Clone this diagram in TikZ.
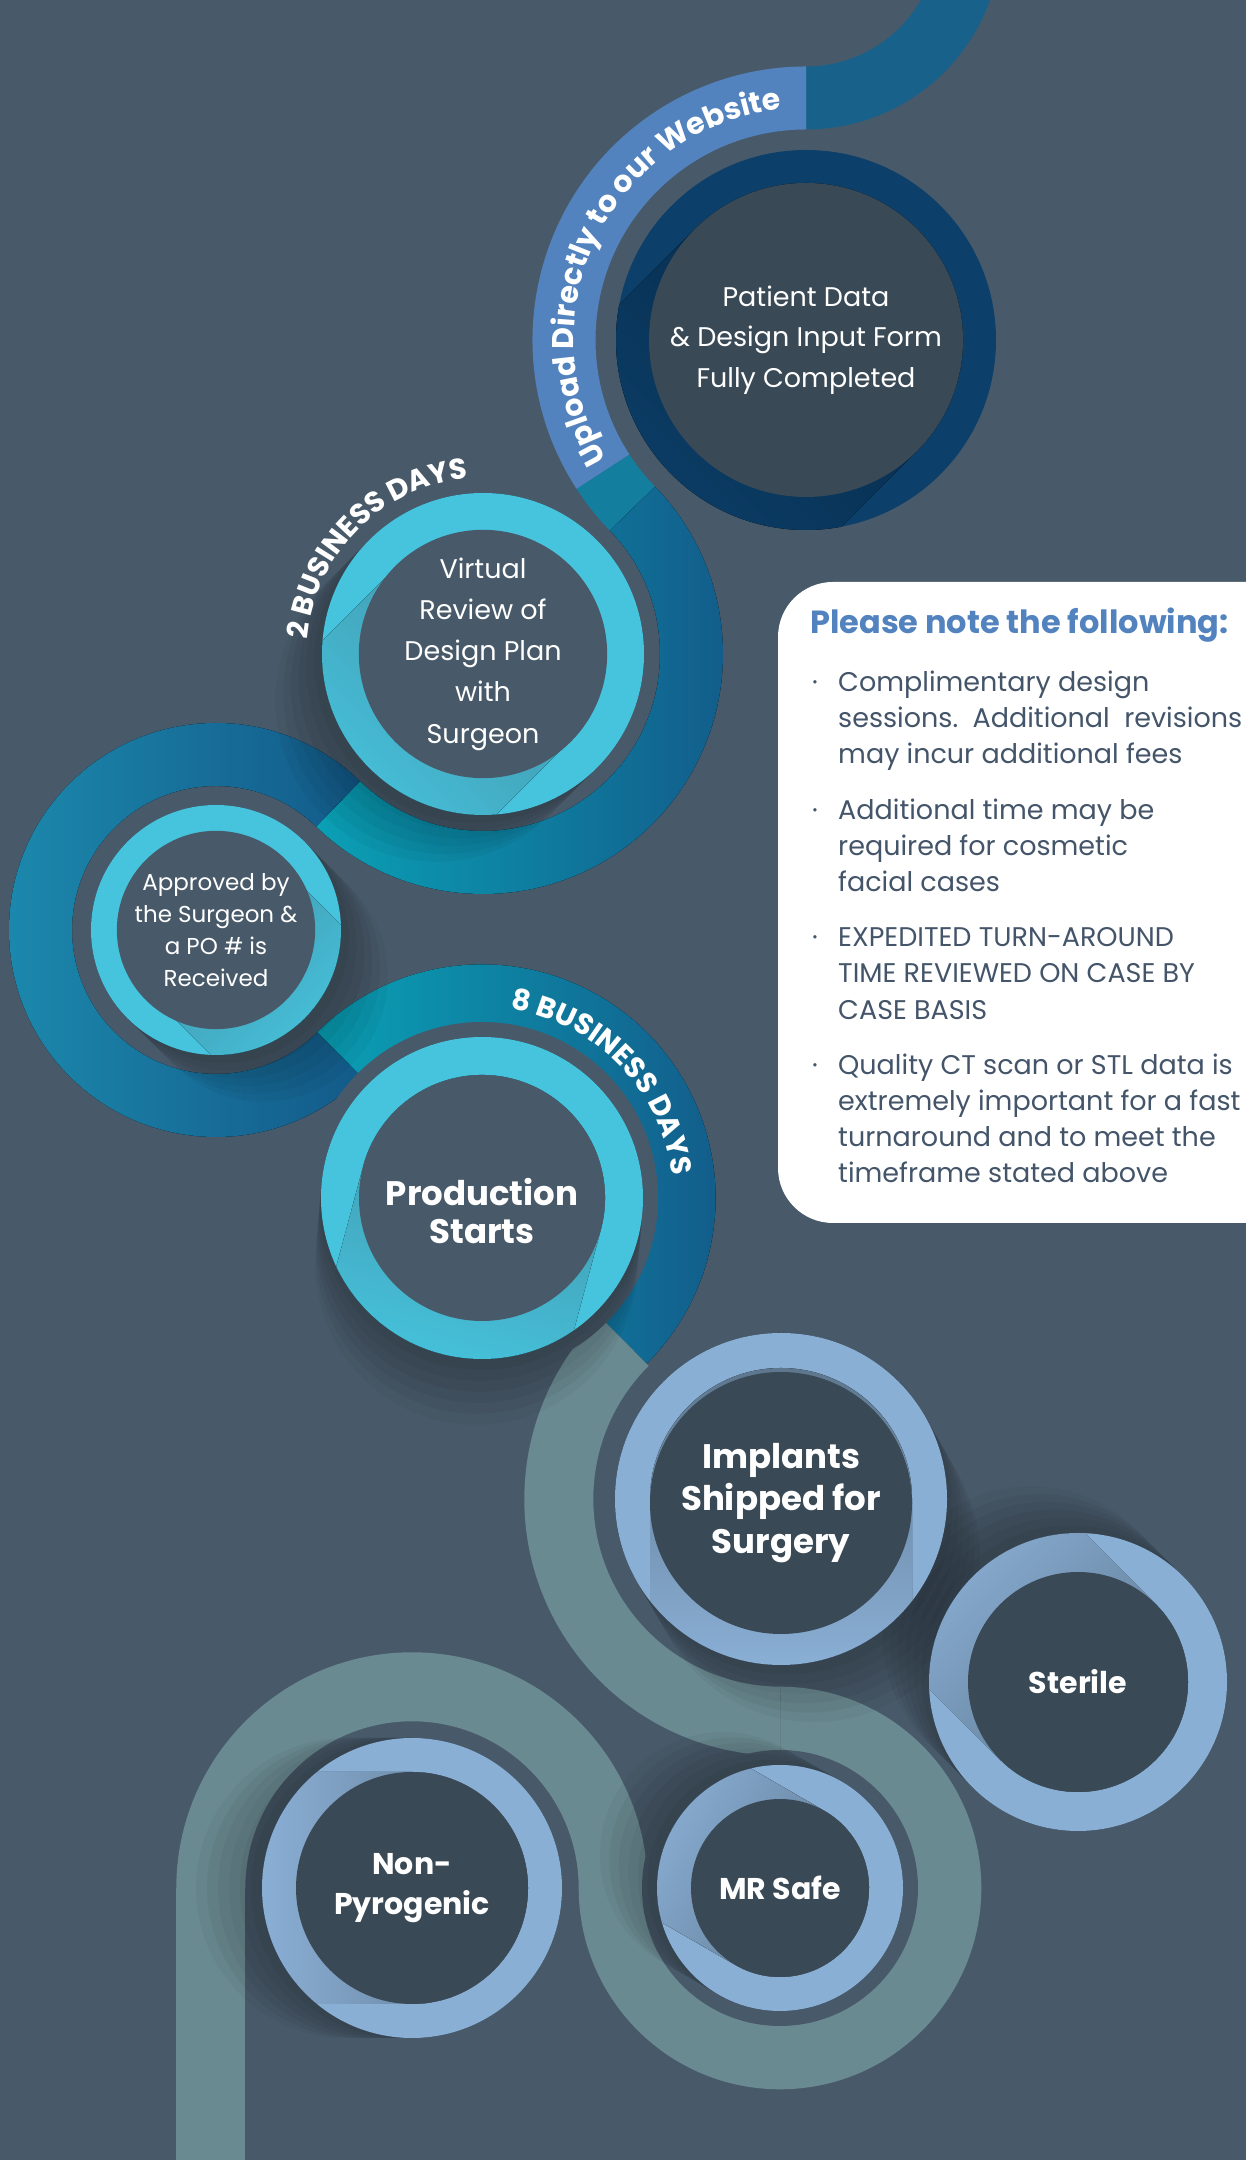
\documentclass[tikz,border=0pt]{standalone}
\usepackage{fontspec}
\setmainfont{Poppins}
\usetikzlibrary{decorations.text}

\definecolor{bgslate}{HTML}{485A69}
\definecolor{discdark}{HTML}{394955}
\definecolor{navyring}{HTML}{0C3F69}
\definecolor{navyshade}{HTML}{062847}
\definecolor{cyanring}{HTML}{46C4DE}
\definecolor{paleblue}{HTML}{8AAFD5}
\definecolor{uploadblue}{HTML}{5283BF}
\definecolor{topband}{HTML}{18618B}
\definecolor{junctionteal}{HTML}{137E9D}
\definecolor{tealband}{HTML}{0AA0B5}
\definecolor{aleft}{HTML}{1C8AAE}
\definecolor{deepband}{HTML}{135A89}
\definecolor{grayband}{HTML}{6A8A91}
\definecolor{notegray}{HTML}{44556A}

\newcommand\fsz[2]{\fontsize{#1}{#2}\selectfont}
% ribbon piece: centre, mid radius, width, start angle, end angle
\newcommand\bandpath[5]{(#1) ++(#4:{#2-#3/2}) arc[start angle=#4, end angle=#5, radius={#2-#3/2}] -- ++(#5:#3) arc[start angle=#5, end angle=#4, radius={#2+#3/2}] -- cycle}
% disc dragged along a direction: centre, radius, angle, length
\newcommand\stadiumpath[4]{(#1) ++({#3+90}:#2) arc[start angle={#3+90}, end angle={#3+270}, radius=#2] -- ++(#3:#4) -- ++({#3+90}:{2*#2}) -- cycle}
% same, with a round front end
\newcommand\sweptpath[4]{(#1) ++({#3+90}:#2) arc[start angle={#3+90}, end angle={#3+270}, radius=#2] -- ++(#3:#4) arc[start angle={#3-90}, end angle={#3+90}, radius=#2] -- cycle}
% long shadow inside a ring: centre, ring radius, disc radius, angle, ring colour, shadow colour
\newcommand\innershade[6]{%
  \begin{scope}
    \clip (#1) circle[radius=#2];
    \fill[shading=axis, top color=#5, bottom color=#6, shading angle={#4-90}] \stadiumpath{#1}{#3}{#4}{#2};
  \end{scope}}

\begin{document}
\begin{tikzpicture}[x=1pt, y=1pt,
    disc/.style={circle, inner sep=0pt, fill=#1, text=white, align=center},
    steplabel/.style={inner sep=0pt, text=white, align=center},
    curvedlabel/.style={decorate, decoration={text along path, text align=center, text color=white, text={#1}}},
    softshadow/.style={black, opacity=0.04},
    notehead/.style={anchor=west, inner sep=0pt, text=uploadblue, font=\fsz{32}{36}\bfseries},
    notebody/.style={anchor=north west, inner sep=0pt, text=notegray, font=\fsz{27}{36.2}}
  ]
  \useasboundingbox (0,0) rectangle (1246,2160);
  \clip (0,0) rectangle (1246,2160);
  \fill[bgslate] (0,0) rectangle (1246,2160);

  % Centres
  \coordinate (pc) at (806,1820);   % patient data
  \coordinate (vc) at (483,1506);   % virtual review
  \coordinate (ac) at (216,1230);   % approved
  \coordinate (sc) at (482,962);    % production
  \coordinate (ic) at (781,661);    % implants
  \coordinate (mc) at (780,272);    % mr safe
  \coordinate (nc) at (412,272);    % non-pyrogenic
  \coordinate (stc) at (1078,478);  % sterile
  \coordinate (tc) at (806,2226);

  % Ribbon
  \fill[topband] \bandpath{tc}{164}{63}{-90}{5};
  \fill[uploadblue] \bandpath{pc}{242}{63}{90}{213};
  \fill[junctionteal] \bandpath{pc}{242}{63}{213}{224.19};
  \fill[left color=tealband, right color=deepband] \bandpath{vc}{208.5}{63}{44.19}{-134.06};
  \fill[left color=aleft, middle color=tealband, right color=deepband] \bandpath{ac}{175.5}{63}{45.94}{314.79};
  \fill[left color=tealband, right color=deepband] \bandpath{sc}{202.1}{63}{134.79}{-45.19};
  \fill[grayband] \bandpath{ic}{222.2}{69}{134.81}{269.85};
  \fill[grayband] \bandpath{mc}{166.8}{69}{89.85}{-180};
  \fill[grayband] \bandpath{nc}{201.2}{69}{0}{180};
  \fill[grayband] (176.3,272) rectangle (245.3,-10);

  % Gaps round the rings
  \foreach \c/\r in {pc/205, vc/176, ac/140, sc/176, ic/181, mc/138, nc/165}
    \fill[bgslate] (\c) circle[radius=\r];

  % Soft shadows outside the rings
  \foreach \c/\R/\a in {vc/161/225, ac/125/315, sc/161/265, ic/166/300, stc/149/135, mc/123/150, nc/150/180}
    \foreach \k in {1,...,6}
      \fill[softshadow] \sweptpath{\c}{\R}{\a}{\k*11};

  % Rings
  \foreach \c/\R/\col in {pc/190/navyring, vc/161/cyanring, ac/125/cyanring, sc/161/cyanring,
      ic/166/paleblue, stc/149/paleblue, mc/123/paleblue, nc/150/paleblue}
    \fill[\col] (\c) circle[radius=\R];

  \innershade{pc}{190}{157}{225}{navyring}{navyshade}
  \innershade{vc}{161}{123}{225}{cyanring}{cyanring!55!discdark}
  \innershade{ac}{125}{92}{315}{cyanring}{cyanring!55!discdark}
  \innershade{sc}{161}{123}{255}{cyanring}{cyanring!55!discdark}
  \innershade{ic}{166}{131}{270}{paleblue}{paleblue!45!discdark}
  \innershade{stc}{149}{110}{135}{paleblue}{paleblue!45!discdark}
  \innershade{mc}{123}{89}{150}{paleblue}{paleblue!45!discdark}
  \innershade{nc}{150}{116}{180}{paleblue}{paleblue!45!discdark}

  % Steps
  \node[disc=discdark, minimum size=314, font=\fsz{27}{40.6}] (patient) at (pc)
    {Patient Data\\\& Design Input Form\\Fully Completed};
  \node[disc=bgslate, minimum size=246, font=\fsz{27}{41.3}] (review) at (vc)
    {Virtual\\Review of\\Design Plan\\with\\Surgeon};
  \node[disc=bgslate, minimum size=184, font=\fsz{23}{32}] (approved) at (ac)
    {Approved by\\the Surgeon \&\\a PO \# is\\Received};
  \node[disc=bgslate, minimum size=246] (production) at (sc) {};
  \node[steplabel, font=\fsz{34}{38.5}\bfseries] (productionlabel) at ([yshift=-13]production.center)
    {Production\\Starts};
  \node[disc=discdark, minimum size=262, font=\fsz{34}{42.7}\bfseries] (implants) at ([yshift=-4]ic)
    {Implants\\Shipped for\\Surgery};
  \node[disc=discdark, minimum size=220, font=\fsz{30}{36}\bfseries] (sterile) at (stc) {Sterile};
  \node[disc=discdark, minimum size=178, font=\fsz{30}{36}\bfseries] (mrsafe) at (mc) {MR Safe};
  \node[disc=discdark, minimum size=232, font=\fsz{30}{40}\bfseries] (nonpyro) at (nc)
    {Non-\\Pyrogenic};

  % Curved labels
  \path[curvedlabel={|\fsz{30}{30}\bfseries|Upload Directly to our Website}]
    (pc) ++(225:232) arc[start angle=225, end angle=82, radius=232];
  \path[curvedlabel={|\fsz{29}{29}\bfseries|2 BUSINESS DAYS}]
    (vc) ++(200:176) arc[start angle=200, end angle=70, radius=176];
  \path[curvedlabel={|\fsz{29}{29}\bfseries|8 BUSINESS DAYS}]
    (sc) ++(104:191) arc[start angle=104, end angle=-16, radius=191];

  % Note box
  \fill[white, rounded corners=55] (778,937) rectangle (1330,1578);
  \node[notehead] (notetitle) at (810,1535) {Please note the following:};
  \node[notebody] (notelist) at (812,1494) {%
    \begin{tabular}{@{}p{26pt}@{}l@{}}
      ·&Complimentary design\\
       &sessions.\ \ Additional\ \ revisions\\
       &may incur additional fees\\[19pt]
      ·&Additional time may be\\
       &required for cosmetic\\
       &facial cases\\[19pt]
      ·&EXPEDITED TURN-AROUND\\
       &TIME REVIEWED ON CASE BY\\
       &CASE BASIS\\[19pt]
      ·&Quality CT scan or STL data is\\
       &extremely important for a fast\\
       &turnaround and to meet the\\
       &timeframe stated above
    \end{tabular}};
\end{tikzpicture}
\end{document}
